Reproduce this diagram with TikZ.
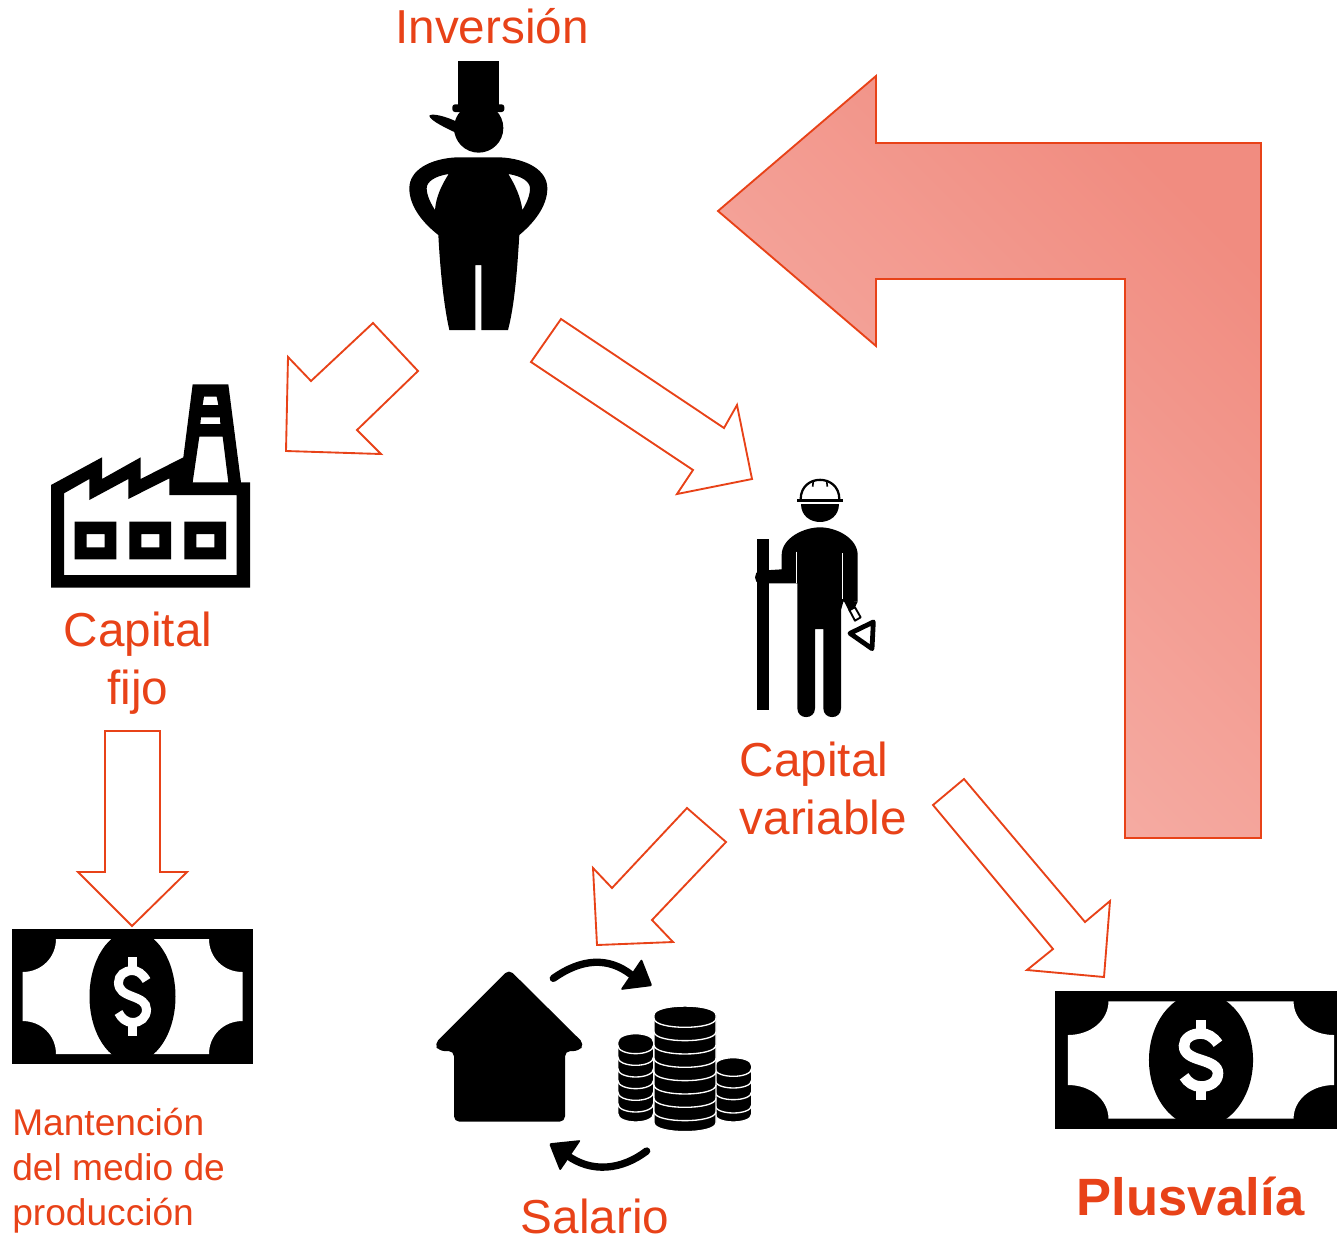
\documentclass[tikz,border=0pt]{standalone}
\usepackage{fontspec}
\setmainfont{Liberation Sans}
\definecolor{plusorange}{RGB}{232,66,24}
\definecolor{flowdark}{RGB}{241,140,128}
\definecolor{flowlight}{RGB}{246,180,172}
\tikzset{
  blockarrow/.style={draw=plusorange, line width=1.4pt, line join=miter, fill=white},
  biglabel/.style={text=plusorange, font=\fontsize{35.75}{43.5}\selectfont, inner sep=0pt},
  smalllabel/.style={text=plusorange, font=\fontsize{27.85}{33.75}\selectfont, inner sep=0pt},
  pics/bill/.style={code={
    \fill[black] (-120.5,-67.5) rectangle (120.5,67.5);
    \fill[white] (-76.5,-57.5) -- (76.5,-57.5) .. controls (76.5,-39) and (91,-24.5) .. (110,-24.5)
      -- (110,24.5) .. controls (91,24.5) and (76.5,39) .. (76.5,57.5) -- (-76.5,57.5)
      .. controls (-76.5,39) and (-91,24.5) .. (-110,24.5) -- (-110,-24.5)
      .. controls (-91,-24.5) and (-76.5,-39) .. (-76.5,-57.5) -- cycle;
    \fill[black] (0,0) ellipse [x radius=43, y radius=66];
    \fill[white] (-4.5,-39.5) rectangle (4.5,-25);
    \fill[white] (-4.5,25) rectangle (4.5,39.5);
    \draw[white, line width=#1] (14,-16) .. controls (10,-23) and (5,-26) .. (0,-26)
      .. controls (-8,-26) and (-14,-21) .. (-14,-14) .. controls (-14,-6) and (-8,-3) .. (0,0)
      .. controls (8,3) and (14,6) .. (14,13) .. controls (14,21) and (8,26) .. (0,26)
      .. controls (-6,26) and (-11,22) .. (-14,16);
  }}
}
\begin{document}
\begin{tikzpicture}[x=0.75pt,y=-0.75pt]
\useasboundingbox (0,0) rectangle (1337,1236);
\clip (0,0) rectangle (1337,1236);
% Return arrow
\shade[shading=axis, top color=flowdark, bottom color=flowlight, shading angle=-45]
  (876,76) -- (718,211) -- (876,346) -- (876,279) -- (1125,279) -- (1125,838) -- (1261,838) -- (1261,143) -- (876,143) -- cycle;
\draw[blockarrow, fill=none] (876,76) -- (718,211) -- (876,346) -- (876,279) -- (1125,279) -- (1125,838) -- (1261,838) -- (1261,143) -- (876,143) -- cycle;
% Flow arrows
\draw[blockarrow] (373,323) -- (418,371) -- (357,430) -- (381,454) -- (286,451) -- (288,357) -- (311,381) -- cycle;
\draw[blockarrow] (561,319) -- (724,428) -- (737,405) -- (752,479) -- (677,494) -- (693,470) -- (531,362) -- cycle;
\draw[blockarrow] (105,731) -- (160,731) -- (160,872) -- (187,872) -- (132,926) -- (78,872) -- (105,872) -- cycle;
\draw[blockarrow] (687,808) -- (726,842) -- (652,920) -- (673,942) -- (597,945) -- (593,868) -- (612,888) -- cycle;
\draw[blockarrow] (964,779) -- (1085,922) -- (1110,901) -- (1104,977) -- (1027,970) -- (1053,949) -- (933,805) -- cycle;
% Capitalist
\begin{scope}[shift={(400,50)},scale=1/3]
\fill (174,33) rectangle (297,165);
\fill[rounded corners=2pt] (157,163) rectangle (313,186);
\fill (236,234) circle[radius=74];
\fill (88,197) .. controls (95,188) and (140,200) .. (170,215) -- (165,247) .. controls (140,235) and (90,212) .. (88,197) -- cycle;
\fill[even odd rule] (170,322) -- (300,322) .. controls (380,326) and (442,360) .. (442,415)
  .. controls (442,470) and (400,520) .. (358,555) .. controls (352,650) and (345,760) .. (324,840)
  -- (244,840) -- (244,645) -- (226,645) -- (226,840) -- (148,840)
  .. controls (130,760) and (120,650) .. (115,555) .. controls (70,520) and (28,470) .. (28,415)
  .. controls (28,360) and (90,326) .. (170,322) -- cycle
  (146,372) .. controls (105,378) and (80,395) .. (80,415) .. controls (80,435) and (92,460) .. (105,480)
  .. controls (108,440) and (125,405) .. (146,372) -- cycle
  (325,372) .. controls (365,378) and (390,395) .. (390,415) .. controls (390,435) and (380,460) .. (367,480)
  .. controls (362,440) and (345,405) .. (325,372) -- cycle;
\end{scope}
% Factory
\begin{scope}[shift={(40,375)},scale=1/3]
\fill[even odd rule] (33,330) -- (186,247) -- (186,312) -- (302,247) -- (302,312) -- (430,247) -- (458,28) -- (565,28) -- (603,322) -- (630,322) -- (630,638) -- (33,638) -- cycle
  (72,355) -- (148,312) -- (148,375) -- (265,312) -- (265,372) -- (388,310) -- (388,360) -- (590,360) -- (590,600) -- (72,600) -- cycle
  (492,65) -- (530,65) -- (535,90) -- (488,90) -- cycle
  (483,127) -- (540,127) -- (541,147) -- (481,147) -- cycle
  (478,185) -- (548,185) -- (565,322) -- (458,322) -- cycle;
\foreach \wx in {104,268,433}
  \fill[even odd rule] (\wx,440) rectangle ++(125,113) ({\wx+36},477) rectangle ++(54,40);
\end{scope}
% Worker
\begin{scope}[shift={(740,470)},scale=1/3]
\fill (52,207) rectangle (88,720);
\fill (125,298) -- (125,255) .. controls (125,205) and (190,172) .. (240,172) .. controls (290,172) and (353,205) .. (353,255)
  -- (353,395) -- (310,395) -- (303,420) -- (303,715) .. controls (303,750) and (250,750) .. (250,715) -- (250,477) -- (225,477) -- (225,715)
  .. controls (225,750) and (172,750) .. (172,715) -- (172,340) -- (60,340) .. controls (40,340) and (40,305) .. (60,302) -- (125,298) -- cycle;
\draw[white, line width=0.6pt] (169,245) -- (169,338);
\draw[white, line width=0.6pt] (306,250) -- (306,388);
\fill (184,103) -- (296,103) .. controls (296,175) and (184,175) .. (184,103) -- cycle;
\draw[line width=1.7pt] (182,88) .. controls (182,10) and (298,10) .. (298,88);
\draw[line width=2pt] (172,92) -- (308,92);
\draw[line width=1.2pt] (220,33) -- (218,50) (260,33) -- (262,50);
\fill (310,390) -- (353,395) -- (345,412) -- (328,425) -- cycle;
\draw[line width=1.4pt, line join=round] (328,420) -- (345,412) -- (362,442) -- (345,452) -- cycle;
\draw[line width=3.6pt, line join=round] (330,490) -- (400,456) -- (396,536) -- cycle;
\end{scope}
% Bills
\pic (billfijo) at (132.5,996.5) {bill=6.75pt};
\pic[xscale=1.21,yscale=1.02] (billplus) at (1201,1060) {bill=8pt};
% House and coins
\begin{scope}[shift={(425,950)},scale=1/3]
\fill[rounded corners=4pt] (252,58) -- (478,282) -- (462,303) -- (420,303) -- (420,515) -- (87,515) -- (87,303) -- (42,303) -- (28,282) -- cycle;
\draw[line width=5.5pt, line cap=round] (385,85) .. controls (470,25) and (550,20) .. (620,75);
\fill[rounded corners=1.5pt] (650,26) -- (682,108) -- (586,120) -- cycle;
\draw[line width=5.5pt, line cap=round] (665,603) .. controls (590,660) and (500,670) .. (425,615);
\fill[rounded corners=1.5pt] (372,580) -- (468,570) -- (405,663) -- cycle;
\foreach \cx/\rx/\ry/\ytop/\ybot/\rims in {632/54/26/277/490/{285,320,355,390,425,460},925/55/24/347/492/{355,390,425,465},780/93/27/195/518/{205,245,285,325,365,405,445,485}} {
  \draw[white, fill=black, line width=1pt] ({\cx-\rx},\ytop) .. controls ({\cx-\rx},{\ytop-1.33*\ry}) and ({\cx+\rx},{\ytop-1.33*\ry}) .. ({\cx+\rx},\ytop)
    -- ({\cx+\rx},\ybot) .. controls ({\cx+\rx},{\ybot+1.33*\ry}) and ({\cx-\rx},{\ybot+1.33*\ry}) .. ({\cx-\rx},\ybot) -- cycle;
  \foreach \rim in \rims
    \draw[white, line width=1pt] ({\cx-\rx},\rim) .. controls ({\cx-\rx},{\rim+1.33*\ry}) and ({\cx+\rx},{\rim+1.33*\ry}) .. ({\cx+\rx},\rim);
}
\end{scope}
% Labels
\node[biglabel, anchor=base] (inversion) at (492,43) {Inversión};
\node[biglabel, anchor=base, align=center] (fijo) at (138,704) {Capital\\fijo};
\node[biglabel, anchor=base west, align=left] (variable) at (739.5,834) {Capital\\variable};
\node[smalllabel, anchor=base west, align=left] (mantencion) at (12,1225) {Mantención\\del medio de\\producción};
\node[biglabel, anchor=base] (salario) at (595,1233) {Salario};
\node[biglabel, anchor=base, font=\fontsize{39.4}{45}\selectfont\bfseries] (plusvalia) at (1190.5,1215) {Plusvalía};
\end{tikzpicture}
\end{document}
